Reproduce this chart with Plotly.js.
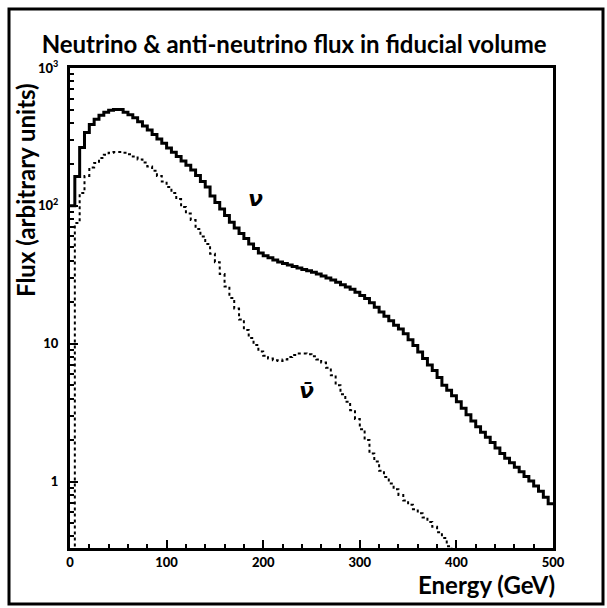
<!DOCTYPE html>
<html>
<head>
<meta charset="utf-8">
<script src="https://cdn.plot.ly/plotly-3.0.1.min.js"></script>
<style>
html,body{margin:0;padding:0;background:#fff;}
#chart{width:607px;height:608px;}
</style>
</head>
<body>
<div id="chart"></div>
<script>
// Energy bins: 5 GeV wide, lower edges 0..495 GeV
const binWidth = 5;
const nBins = 100;
const binLow = Array.from({length: nBins}, (_, i) => i * binWidth);

// Neutrino flux per bin (arbitrary units)
const nuFlux = [
  100, 163, 265, 340, 390, 425, 455, 478, 493, 501,
  500, 478, 458, 435, 408, 380, 355, 330, 305, 284,
  263, 245, 228, 212, 197, 182, 166, 150, 137, 118,
  106, 95, 85, 76, 69, 63, 58, 53, 49, 45.5,
  43.5, 42, 40.5, 39.2, 38.2, 37.2, 36.3, 35.5, 34.6, 33.8,
  33.0, 32.0, 31.0, 30.0, 29.0, 27.9, 26.8, 25.8, 24.8, 23.6,
  22.4, 21.3, 19.8, 18.4, 17.0, 15.8, 14.7, 13.6, 12.8, 11.8,
  10.7, 9.7, 8.7, 7.8, 7.0, 6.4, 5.7, 5.0, 4.6, 4.2,
  3.8, 3.4, 3.05, 2.75, 2.5, 2.28, 2.1, 1.92, 1.75, 1.6,
  1.48, 1.37, 1.27, 1.18, 1.09, 1.01, 0.93, 0.85, 0.77, 0.69
];

// Anti-neutrino flux per bin (arbitrary units); falls below the axis after ~395 GeV
const antiNuFlux = [
  0.3, 75, 124, 165, 190, 205, 222, 235, 243, 246,
  246, 243, 237, 228, 217, 206, 193, 180, 165, 150,
  137, 124, 112, 98, 88, 79, 68, 60, 53, 45,
  39, 32, 26, 21.5, 18, 15, 12.6, 11, 9.8, 8.8,
  8.2, 7.8, 7.6, 7.5, 7.7, 8.0, 8.3, 8.5, 8.5, 8.4,
  8.1, 7.7, 7.3, 6.7, 5.9, 5.0, 4.3, 3.8, 3.3, 2.85,
  2.4, 2.0, 1.6, 1.4, 1.2, 1.08, 0.97, 0.88, 0.8, 0.73,
  0.68, 0.63, 0.59, 0.55, 0.51, 0.47, 0.43, 0.39, 0.34, 0.3
];

const xTickVals = [0, 100, 200, 300, 400, 500];
const xTickText = ['0', '100', '200', '300', '400', '500'];
const yTickVals = [1, 10, 100, 1000];
const yTickText = ['1', '10', '10<sup>2</sup>', '10<sup>3</sup>'];

function stepXY(vals) {
  const xs = vals.map((_, i) => binLow[i]);
  const ys = vals.slice();
  xs.push(binLow[vals.length - 1] + binWidth);
  ys.push(vals[vals.length - 1]);
  return {xs, ys};
}

const nu = stepXY(nuFlux);
const anu = stepXY(antiNuFlux);

const yMinor = [];
[0.1, 1, 10, 100].forEach(d => { for (let k = 2; k <= 9; k++) yMinor.push(k * d); });

const traces = [
  {x: nu.xs, y: nu.ys, type: 'scatter', mode: 'lines', line: {shape: 'hv', color: '#000', width: 3}, name: 'ν', showlegend: false},
  {x: anu.xs, y: anu.ys, type: 'scatter', mode: 'lines', line: {shape: 'hv', color: '#000', width: 2, dash: 'dot'}, name: 'ν̄', showlegend: false}
];

const tickFont = {family: 'Lato, "DejaVu Sans", sans-serif', size: 13, color: '#000', weight: 900};
const textFont = {family: 'Lato, "DejaVu Sans", sans-serif', size: 24, color: '#000', weight: 700};

const layout = {
  width: 607, height: 608,
  margin: {l: 70, r: 54, t: 68, b: 60, pad: 0},
  paper_bgcolor: '#fff', plot_bgcolor: '#fff',
  showlegend: false,
  title: {text: 'Neutrino & anti-neutrino flux in fiducial volume', font: textFont,
          xref: 'paper', x: 0.464, xanchor: 'center', yref: 'container', y: 0.926, yanchor: 'middle'},
  xaxis: {
    range: [0, 500], showgrid: false, zeroline: false,
    showline: true, linewidth: 3, linecolor: '#000', mirror: true,
    tickmode: 'array', tickvals: xTickVals, ticktext: xTickText,
    ticks: 'inside', ticklen: 8, tickwidth: 2, tickcolor: '#000',
    tickfont: tickFont,
    minor: {dtick: 20, tick0: 0, ticks: 'inside', ticklen: 4, tickwidth: 2, tickcolor: '#000', showgrid: false}
  },
  yaxis: {
    type: 'log', range: [Math.log10(0.33), 3], showgrid: false, zeroline: false,
    showline: true, linewidth: 3, linecolor: '#000', mirror: true,
    tickmode: 'array', tickvals: yTickVals, ticktext: yTickText,
    ticks: 'inside', ticklen: 8, tickwidth: 2, tickcolor: '#000',
    tickfont: tickFont, ticklabelstandoff: 6,
    minor: {tickvals: yMinor, ticks: 'inside', ticklen: 4, tickwidth: 2, tickcolor: '#000', showgrid: false}
  },
  annotations: [
    {text: 'Flux (arbitrary units)', xref: 'paper', yref: 'paper', x: (25 - 70) / 483, y: (548 - 190) / 480,
     xanchor: 'center', yanchor: 'middle', textangle: -90, showarrow: false, font: textFont},
    {text: 'Energy (GeV)', xref: 'paper', yref: 'paper', x: (557 - 70) / 483, y: (548 - 568) / 480,
     xanchor: 'right', yanchor: 'top', showarrow: false, font: textFont},
    {text: '<i>ν</i>', xref: 'x', yref: 'y', x: 192, y: Math.log10(114), showarrow: false,
     font: {family: '"DejaVu Sans", sans-serif', size: 22, color: '#000', weight: 700}},
    {text: '<i>ν̄</i>', xref: 'x', yref: 'y', x: 245, y: Math.log10(4.6), showarrow: false,
     font: {family: '"DejaVu Sans", sans-serif', size: 22, color: '#000', weight: 700}}
  ],
  shapes: [
    {type: 'rect', xref: 'paper', yref: 'paper',
     x0: (9 - 70) / 483, x1: (603 - 70) / 483, y0: (548 - 604) / 480, y1: (548 - 9) / 480,
     line: {color: '#000', width: 3}, fillcolor: 'rgba(0,0,0,0)', layer: 'above'}
  ]
};

Plotly.newPlot('chart', traces, layout, {displayModeBar: false, staticPlot: true});
</script>
</body>
</html>
